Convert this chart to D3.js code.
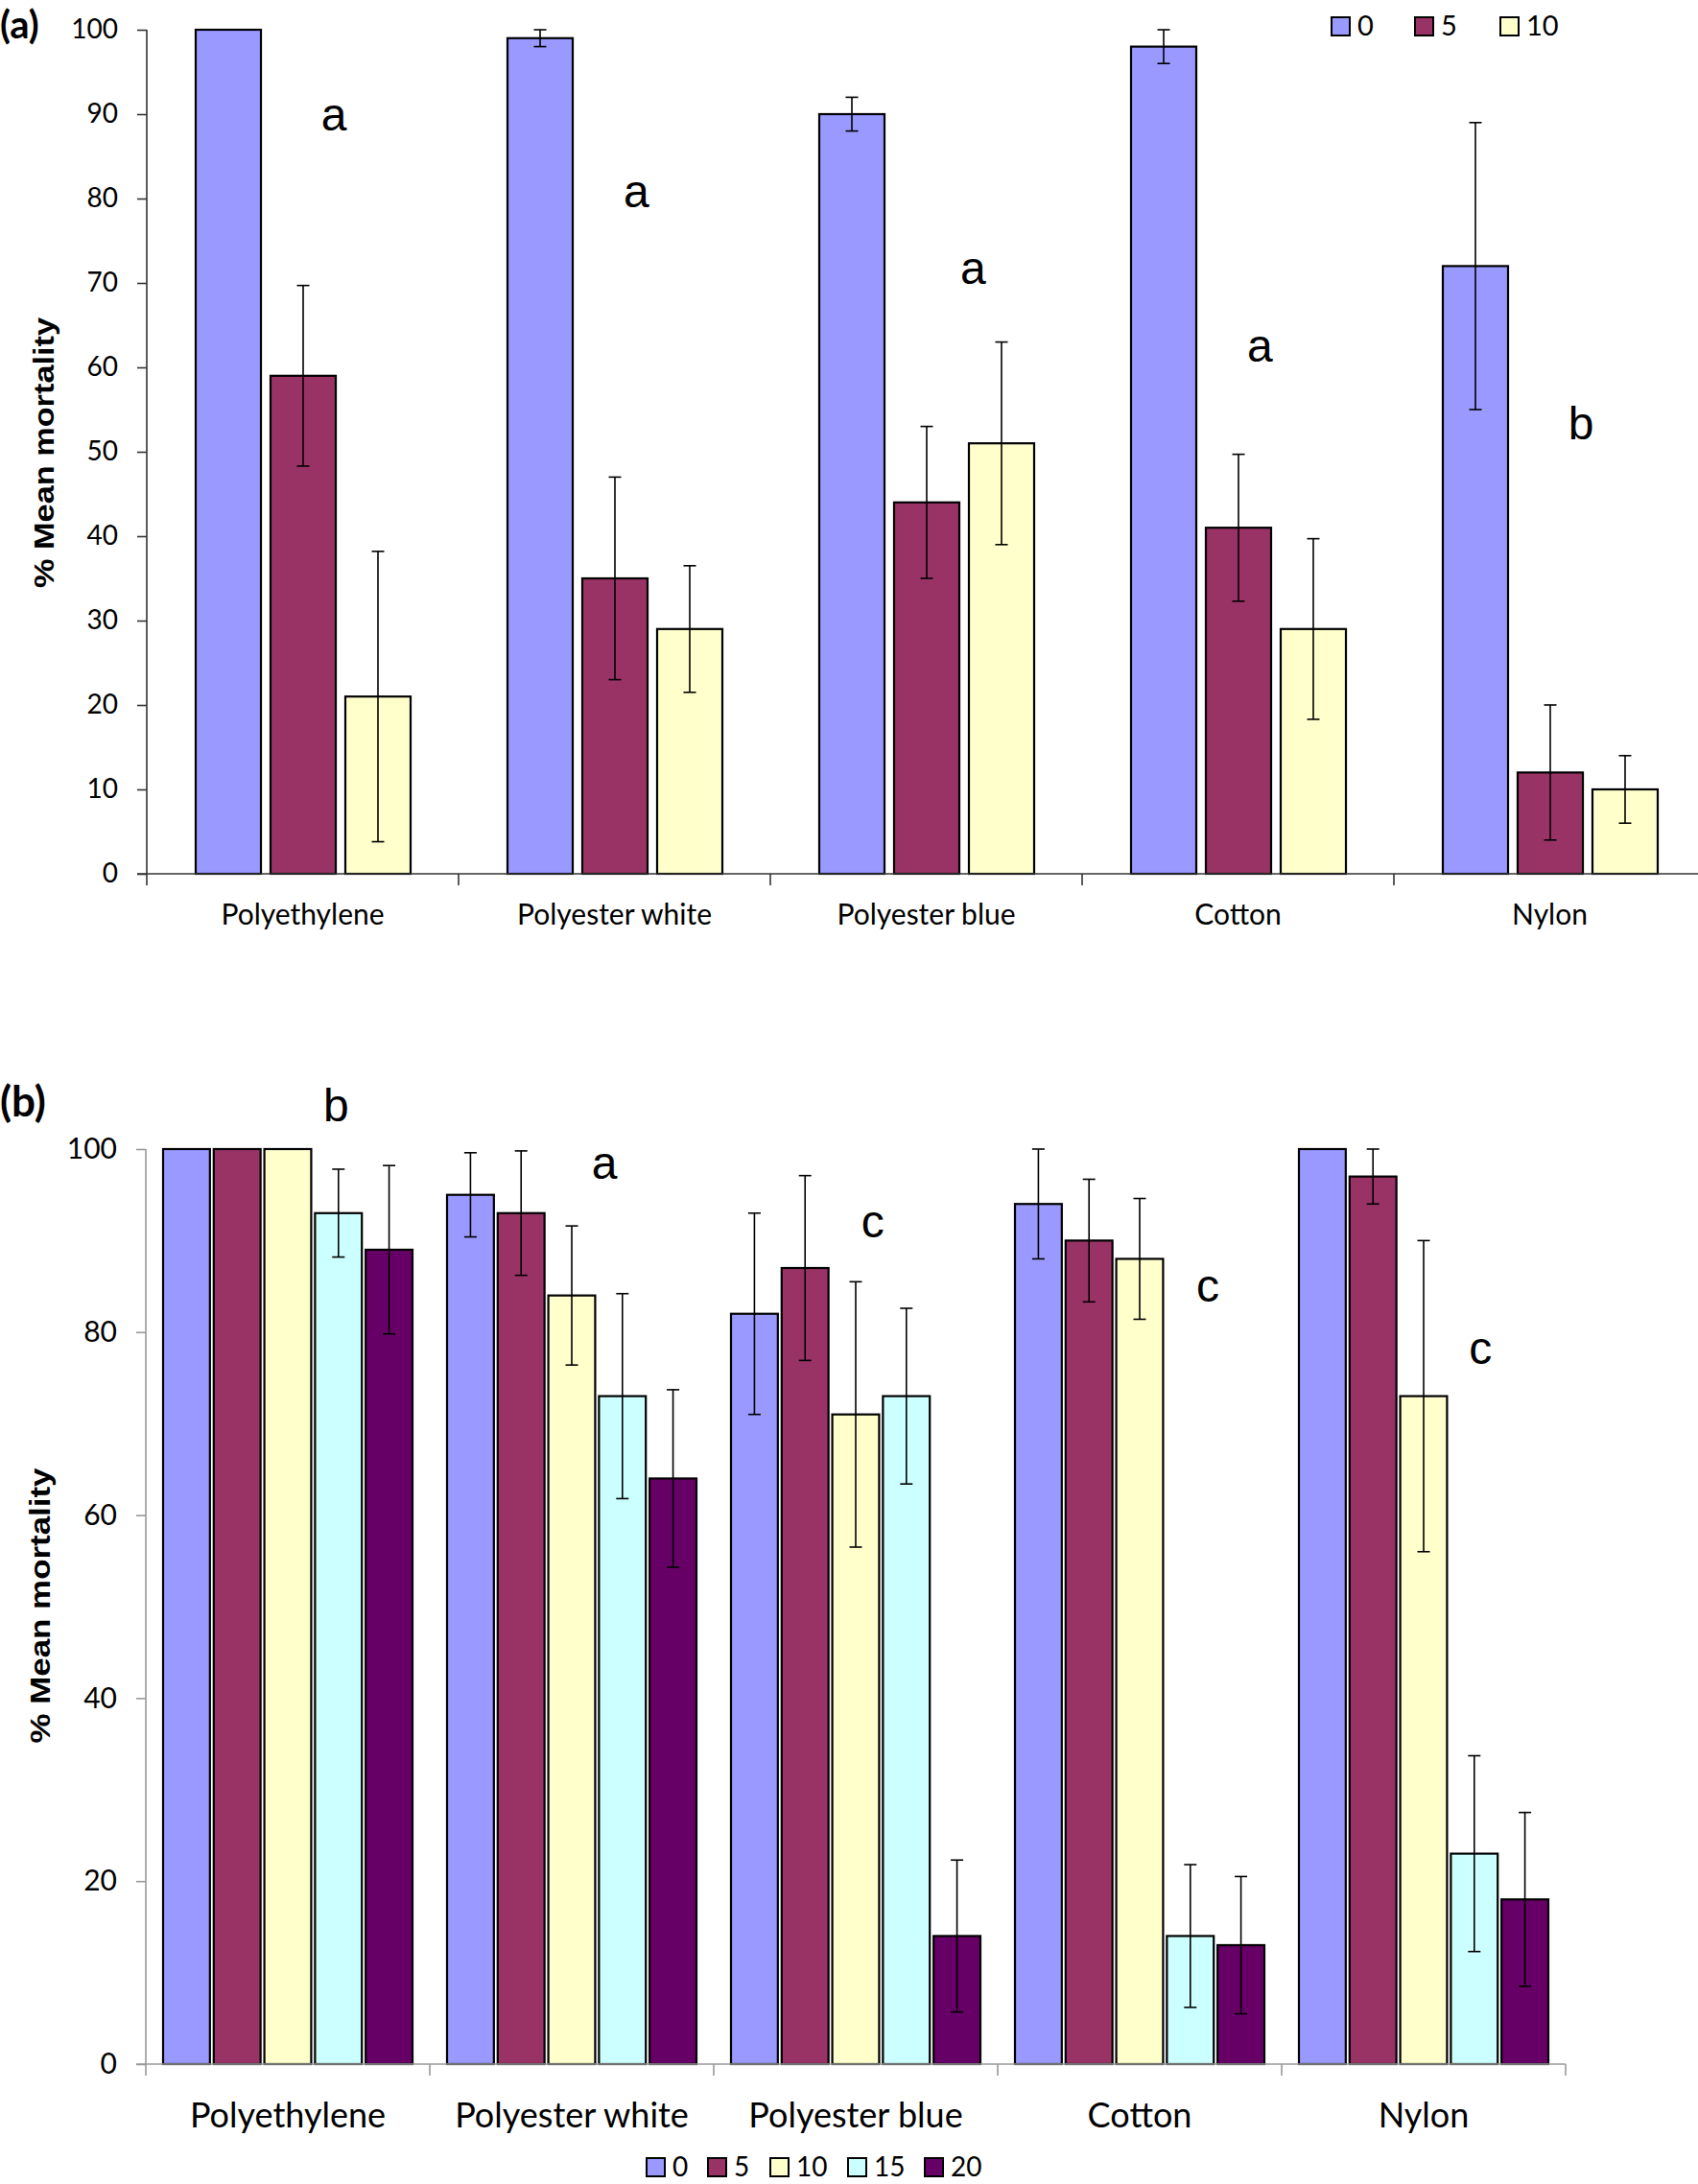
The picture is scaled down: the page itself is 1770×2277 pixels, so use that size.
<!DOCTYPE html>
<html><head><meta charset="utf-8">
<script src="https://cdn.jsdelivr.net/npm/d3@7"></script>
<style>body{margin:0;background:#fff}svg{display:block}</style>
</head><body>
<svg id="chart" width="1770" height="2277"></svg>
<script>
// ---------- data ----------
const categories = ["Polyethylene","Polyester white","Polyester blue","Cotton","Nylon"];

const seriesA = ["0","5","10"];
const a_0  = [100, 99, 90, 98, 72];
const a_0e = [0, 1, 2, 2, 17];
const a_5  = [59, 35, 44, 41, 12];
const a_5e = [10.7, 12, 9, 8.7, 8];
const a_10  = [21, 29, 51, 29, 10];
const a_10e = [17.2, 7.5, 12, 10.7, 4];
const lettersA = ["a","a","a","a","b"];
const letterYA = [90, 80.8, 71.8, 62.6, 53.4];
const letterXA = [0.6, 0.57, 0.65, 0.57, 0.6];

const seriesB = ["0","5","10","15","20"];
const b_0  = [100, 95, 82, 94, 100];
const b_0e = [0, 4.6, 11, 6, 0];
const b_5  = [100, 93, 87, 90, 97];
const b_5e = [0, 6.8, 10.1, 6.7, 3];
const b_10  = [100, 84, 71, 88, 73];
const b_10e = [0, 7.6, 14.5, 6.6, 17];
const b_15  = [93, 73, 73, 14, 23];
const b_15e = [4.8, 11.2, 9.6, 7.8, 10.7];
const b_20  = [89, 64, 14, 13, 18];
const b_20e = [9.2, 9.7, 8.3, 7.5, 9.5];
const lettersB = ["b","a","c","c","c"];
const letterYB = [104.8, 98.5, 92.1, 85.1, 78.2];
const letterXB = [0.67, 0.615, 0.56, 0.74, 0.70];

const ticksA = [0,10,20,30,40,50,60,70,80,90,100];
const ticksB = [0,20,40,60,80,100];
const colorsA = ["#9999FF","#993366","#FFFFCC"];
const colorsB = ["#9999FF","#993366","#FFFFCC","#CCFFFF","#660066"];
const yTitle = "% Mean mortality";

// ---------- drawing ----------
const svg = d3.select("#chart");
const FONT = "Lato, 'Open Sans', sans-serif";

function panel(cfg){
  const g = svg.append("g");
  const x0 = d3.scaleBand().domain(categories).range([cfg.left, cfg.right]).padding(0);
  const x1 = d3.scaleBand().domain(cfg.series).range([cfg.inL, cfg.inR]).paddingInner(cfg.pin).paddingOuter(0);
  const y = d3.scaleLinear().domain([0,100]).range([cfg.y0, cfg.y100]);

  // bars
  cfg.series.forEach((s,si)=>{
    const vals = cfg.vals[si];
    g.append("g").selectAll("rect").data(categories).join("rect")
      .attr("x", c=>x0(c)+x1(s))
      .attr("y", (c,i)=>y(vals[i]))
      .attr("width", x1.bandwidth())
      .attr("height", (c,i)=>y(0)-y(vals[i]))
      .attr("fill", cfg.colors[si])
      .attr("stroke", "#000").attr("stroke-width", 2.2);
  });
  // error bars
  cfg.series.forEach((s,si)=>{
    const vals = cfg.vals[si], errs = cfg.errs[si];
    const eg = g.append("g").attr("stroke","#000").attr("stroke-width",1.6);
    categories.forEach((c,i)=>{
      if(!errs[i]) return;
      const cx = x0(c)+x1(s)+x1.bandwidth()/2;
      const yt = y(vals[i]+errs[i]), yb = y(vals[i]-errs[i]);
      eg.append("line").attr("x1",cx).attr("x2",cx).attr("y1",yt).attr("y2",yb);
      eg.append("line").attr("x1",cx-6.5).attr("x2",cx+6.5).attr("y1",yt).attr("y2",yt);
      eg.append("line").attr("x1",cx-6.5).attr("x2",cx+6.5).attr("y1",yb).attr("y2",yb);
    });
  });

  // y axis
  const ya = g.append("g").attr("transform",`translate(${cfg.left},0)`)
    .call(d3.axisLeft(y).tickValues(cfg.ticks).tickSize(10).tickSizeOuter(0).tickPadding(20));
  ya.select(".domain").attr("stroke",cfg.axisColor).attr("stroke-width",1.6)
    .attr("d",`M0,${cfg.y100}V${cfg.y0+12}`);
  ya.selectAll(".tick line").attr("stroke",cfg.axisColor).attr("stroke-width",1.6);
  ya.selectAll(".tick text").attr("font-family",FONT).attr("font-size",cfg.tickFs).attr("fill","#000");

  // x axis
  const xa = g.append("g").attr("transform",`translate(0,${cfg.y0})`)
    .call(d3.axisBottom(x0).tickSize(0).tickPadding(cfg.catPad));
  xa.select(".domain").attr("stroke",cfg.axisColor).attr("stroke-width",1.6)
    .attr("d",`M${cfg.left-10},0H${cfg.right}`);
  xa.selectAll(".tick text").attr("font-family",FONT).attr("font-size",cfg.catFs).attr("fill","#000");
  // category boundary ticks
  g.append("g").selectAll("line").data(categories.slice(1).concat(cfg.endTick?["__end"]:[])).join("line")
    .attr("x1",c=>c==="__end"?cfg.right:x0(c)).attr("x2",c=>c==="__end"?cfg.right:x0(c))
    .attr("y1",cfg.y0).attr("y2",cfg.y0+12)
    .attr("stroke",cfg.axisColor).attr("stroke-width",1.6);

  // significance letters
  g.append("g").selectAll("text").data(categories).join("text")
    .attr("x",(c,i)=>x0(c)+cfg.letterX[i]*x0.bandwidth())
    .attr("y",(c,i)=>y(cfg.letterY[i]))
    .attr("text-anchor","middle").attr("dominant-baseline","central")
    .attr("font-family","'Liberation Sans', Arial, sans-serif").attr("font-size",48)
    .text((c,i)=>cfg.letters[i]);

  // y title
  g.append("text")
    .attr("transform",`translate(${cfg.titleX},${cfg.titleY}) rotate(-90)`)
    .attr("text-anchor","middle").attr("dominant-baseline","central")
    .attr("font-family","'Liberation Sans Narrow','Liberation Sans',Arial,sans-serif")
    .attr("font-weight","bold").attr("font-size",29)
    .attr("textLength",cfg.titleLen).attr("lengthAdjust","spacingAndGlyphs")
    .text(yTitle);

  // panel label
  g.append("text").attr("x",0).attr("y",cfg.labelY)
    .attr("font-family",FONT).attr("font-weight","bold").attr("font-size",cfg.labelFs)
    .text(cfg.label);

  // legend
  const lg = g.append("g");
  cfg.series.forEach((s,si)=>{
    lg.append("rect").attr("x",cfg.legX[si]).attr("y",cfg.legY-19).attr("width",19).attr("height",19)
      .attr("fill",cfg.colors[si]).attr("stroke","#000").attr("stroke-width",2);
    lg.append("text").attr("x",cfg.legX[si]+27).attr("y",cfg.legY)
      .attr("font-family",FONT).attr("font-size",cfg.legFs)
      .text(s);
  });
}

panel({
  series: seriesA, vals:[a_0,a_5,a_10], errs:[a_0e,a_5e,a_10e], colors: colorsA,
  left:153, right:1778, inL:51, inR:275, pin:0.128,
  y0:911, y100:31, ticks: ticksA, tickFs:28, catFs:30, catPad:32,
  axisColor:"#333", endTick:false,
  letters: lettersA, letterY: letterYA, letterX: letterXA,
  titleX:46, titleY:472, titleLen:282,
  label:"(a)", labelY:40, labelFs:40,
  legX:[1388,1475,1564], legY:37, legFs:29
});

panel({
  series: seriesB, vals:[b_0,b_5,b_10,b_15,b_20], errs:[b_0e,b_5e,b_10e,b_15e,b_20e], colors: colorsB,
  left:152, right:1632, inL:18, inR:278, pin:0.075,
  y0:2152, y100:1198, ticks: ticksB, tickFs:30, catFs:36, catPad:40,
  axisColor:"#999", endTick:true,
  letters: lettersB, letterY: letterYB, letterX: letterXB,
  titleX:42, titleY:1674, titleLen:287,
  label:"(b)", labelY:1164, labelFs:44,
  legX:[674,738,803,884,964], legY:2269, legFs:28
});
</script>
</body></html>
